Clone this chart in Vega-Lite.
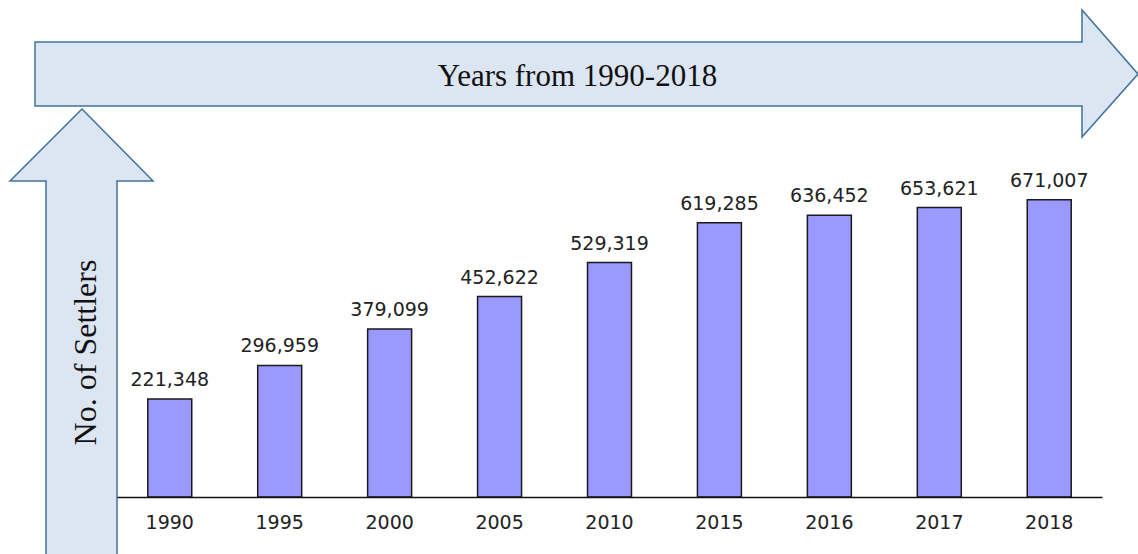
{
  "$schema": "https://vega.github.io/schema/vega-lite/v6.json",
  "width": 985,
  "height": 310,
  "autosize": {"type": "none"},
  "padding": {"left": 117, "top": 187, "right": 36, "bottom": 57},
  "background": "white",
  "config": {"view": {"stroke": null}},
  "datasets": {
    "settlers": [
      {"year": "1990", "settlers": 221348},
      {"year": "1995", "settlers": 296959},
      {"year": "2000", "settlers": 379099},
      {"year": "2005", "settlers": 452622},
      {"year": "2010", "settlers": 529319},
      {"year": "2015", "settlers": 619285},
      {"year": "2016", "settlers": 636452},
      {"year": "2017", "settlers": 653621},
      {"year": "2018", "settlers": 671007}
    ],
    "arrows": [{"name": "arrow"}]
  },
  "layer": [
    {
      "data": {"name": "arrows"},
      "mark": {
        "type": "point",
        "shape": "M-82,-145L965,-145L965,-177L1021,-113L965,-50L965,-81L-82,-81Z",
        "size": 4,
        "filled": true,
        "fill": "#dce6f2",
        "fillOpacity": 1,
        "stroke": "#41719c",
        "strokeOpacity": 1,
        "strokeWidth": 1.5,
        "opacity": 1
      },
      "encoding": {"x": {"value": 0}, "y": {"value": 0}}
    },
    {
      "data": {"name": "arrows"},
      "mark": {
        "type": "point",
        "shape": "M-35,-78L36,-6L0,-6L0,373L-71,373L-71,-6L-107,-6Z",
        "size": 4,
        "filled": true,
        "fill": "#dce6f2",
        "fillOpacity": 1,
        "stroke": "#41719c",
        "strokeOpacity": 1,
        "strokeWidth": 1.5,
        "opacity": 1
      },
      "encoding": {"x": {"value": 0}, "y": {"value": 0}}
    },
    {
      "data": {"name": "settlers"},
      "mark": {"type": "bar", "fill": "#9999ff", "stroke": "#1a1a1a", "strokeWidth": 1.5},
      "encoding": {
        "x": {
          "field": "year",
          "type": "ordinal",
          "sort": null,
          "scale": {"paddingInner": 0.6, "paddingOuter": 0.28},
          "axis": {
            "title": "Years from 1990-2018",
            "titleFont": "Liberation Serif",
            "titleFontSize": 31,
            "titleFontWeight": "normal",
            "titleColor": "#111111",
            "titleX": 460,
            "titleY": -412,
            "titleAlign": "center",
            "titleBaseline": "alphabetic",
            "titleAngle": 0,
            "labelFont": "DejaVu Sans",
            "labelFontSize": 19,
            "labelColor": "#222222",
            "labelAngle": 0,
            "labelBaseline": "alphabetic",
            "labelPadding": 31,
            "ticks": false,
            "domainColor": "#111111",
            "domainWidth": 1.5,
            "grid": false,
            "zindex": 1
          }
        },
        "y": {
          "field": "settlers",
          "type": "quantitative",
          "scale": {"domain": [0, 700000], "nice": false},
          "axis": {
            "title": "No. of Settlers",
            "titleFont": "Liberation Serif",
            "titleFontSize": 32,
            "titleFontWeight": "normal",
            "titleColor": "#111111",
            "titleAngle": 270,
            "titleX": -22,
            "titleY": 165,
            "titleAlign": "center",
            "titleBaseline": "alphabetic",
            "labels": false,
            "ticks": false,
            "domain": false,
            "grid": false,
            "zindex": 1
          }
        }
      }
    },
    {
      "data": {"name": "settlers"},
      "mark": {
        "type": "text",
        "font": "DejaVu Sans",
        "fontSize": 19,
        "color": "#222222",
        "baseline": "alphabetic",
        "dy": -13
      },
      "encoding": {
        "x": {"field": "year", "type": "ordinal", "sort": null},
        "y": {"field": "settlers", "type": "quantitative"},
        "text": {"field": "settlers", "type": "quantitative", "format": ","}
      }
    }
  ]
}
